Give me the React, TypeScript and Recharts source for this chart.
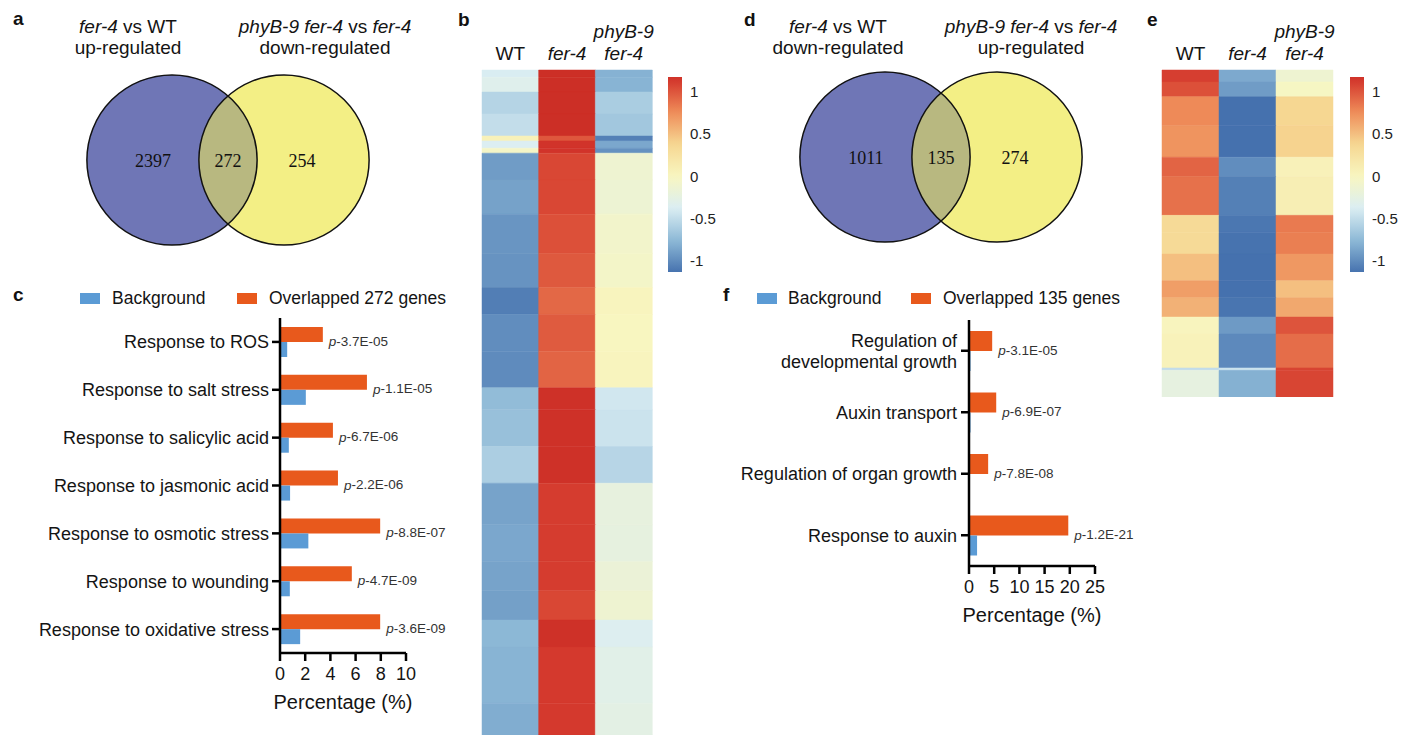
import React from "react";
import { Bar, BarChart, Cell, LabelList, Scatter, ScatterChart, XAxis, YAxis } from "recharts";

const FONT = '"Liberation Sans", Arial, Helvetica, sans-serif';
const SERIF = '"Liberation Serif", "Times New Roman", serif';
const INK = "#141414";
const BLUE = "#5b9bd5";
const ORANGE = "#e8591c";

// venn counts: [left only, overlap, right only]
const vennACounts = [2397, 272, 254];
const vennDCounts = [1011, 135, 274];

// heatmap columns (z-scores per block of genes, top to bottom)
const heatColumns = ["WT", "fer-4", "phyB-9\nfer-4"];

const heatBSizes = [3, 6, 9, 9, 2, 3, 2, 11, 14, 16, 14, 11, 15, 15, 9, 15, 15, 17, 15, 12, 12, 11, 23, 13];
const heatBWT = [-0.39, -0.33, -0.57, -0.5, 0.06, -0.37, -0.05, -0.92, -0.89, -0.96, -0.97, -1.08, -1.0, -1.01, -0.74, -0.71, -0.61, -0.88, -0.86, -0.88, -0.9, -0.77, -0.79, -0.83];
const heatBFer = [1.22, 1.22, 1.22, 1.22, 1.0, 1.17, 1.17, 1.07, 1.07, 1.03, 0.99, 0.92, 0.98, 0.94, 1.2, 1.2, 1.2, 1.12, 1.12, 1.12, 1.07, 1.2, 1.13, 1.13];
const heatBPhyB = [-0.8, -0.79, -0.62, -0.66, -1.07, -0.86, -0.98, -0.13, -0.14, -0.08, -0.06, 0.02, 0.0, 0.02, -0.43, -0.46, -0.56, -0.22, -0.23, -0.17, -0.13, -0.36, -0.3, -0.27];

const heatESizes = [5, 6, 12, 13, 8, 16, 7, 9, 11, 7, 8, 7, 14, 1, 11];
const heatEWT = [1.11, 1.03, 0.77, 0.72, 0.94, 0.88, 0.34, 0.34, 0.5, 0.67, 0.57, 0.02, 0.05, -0.5, -0.24];
const heatEFer = [-0.85, -0.92, -1.15, -1.15, -1.0, -1.07, -1.12, -1.14, -1.15, -1.15, -1.13, -0.93, -1.02, -0.45, -0.81];
const heatEPhyB = [-0.13, -0.02, 0.38, 0.4, 0.06, 0.1, 0.84, 0.82, 0.7, 0.5, 0.62, 1.01, 0.9, 1.08, 1.08];

const colorBarDomain: [number, number] = [-1.14, 1.18];
const colorBarTicks = [-1, -0.5, 0, 0.5, 1];

// GO enrichment, panel c
const goCCategories = [
	"Response to ROS",
	"Response to salt stress",
	"Response to salicylic acid",
	"Response to jasmonic acid",
	"Response to osmotic stress",
	"Response to wounding",
	"Response to oxidative stress",
];
const goCOverlap = [3.4, 6.9, 4.2, 4.6, 7.95, 5.7, 7.95];
const goCBackground = [0.57, 2.05, 0.7, 0.8, 2.25, 0.78, 1.6];
const goCPValues = ["3.7E-05", "1.1E-05", "6.7E-06", "2.2E-06", "8.8E-07", "4.7E-09", "3.6E-09"];
const goCTicks = [0, 2, 4, 6, 8, 10];

// GO enrichment, panel f
const goFCategories = [
	"Regulation of\ndevelopmental growth",
	"Auxin transport",
	"Regulation of organ growth",
	"Response to auxin",
];
const goFOverlap = [4.6, 5.4, 3.8, 19.7];
const goFBackground = [0.3, 0.3, 0.1, 1.6];
const goFPValues = ["3.1E-05", "6.9E-07", "7.8E-08", "1.2E-21"];
const goFTicks = [0, 5, 10, 15, 20, 25];

// colour scale for the heatmaps
const zStops: [number, string][] = [
	[-1.15, "#4571ae"],
	[-0.77, "#8cb8d6"],
	[-0.38, "#dbeef3"],
	[0, "#f8f6c0"],
	[0.38, "#f6d792"],
	[0.77, "#ee8a58"],
	[1.15, "#d3352b"],
	[1.3, "#c42821"],
];

function hexToRgb(h: string) {
	const n = parseInt(h.slice(1), 16);
	return [(n >> 16) & 255, (n >> 8) & 255, n & 255];
}

function zColor(z: number): string {
	if (z <= zStops[0][0]) return zStops[0][1];
	for (let i = 1; i < zStops.length; i++) {
		if (z <= zStops[i][0]) {
			const [z0, c0] = zStops[i - 1];
			const [z1, c1] = zStops[i];
			const t = (z - z0) / (z1 - z0);
			const a = hexToRgb(c0);
			const b = hexToRgb(c1);
			const m = a.map((v, k) => Math.round(v + (b[k] - v) * t));
			return `rgb(${m[0]},${m[1]},${m[2]})`;
		}
	}
	return zStops[zStops.length - 1][1];
}

// ---------- Venn ----------
const VENN_W = 336;
const VENN_H = 200;
const VENN_X: [number, number] = [-1, 2];
const VENN_Y: [number, number] = [-1, 1];
const VENN_R = 0.76; // radius in x units
const VENN_LABEL_X = [-0.17, 0.5, 1.16];

function Venn({ left, top, counts }: { left: number; top: number; counts: number[] }) {
	const px = VENN_W / (VENN_X[1] - VENN_X[0]);
	const r = VENN_R * px;
	const h = Math.sqrt(r * r - (px / 2) * (px / 2));
	const sets = [
		{ x: 0, y: 0, fill: "#6f76b6" },
		{ x: 1, y: 0, fill: "#f3ef85" },
	];
	const lens = [{ x: 0.5, y: 0 }];
	const labels = counts.map((c, i) => ({ x: VENN_LABEL_X[i], y: 0, count: c }));

	return (
		<div style={{ position: "absolute", left, top }}>
			<ScatterChart width={VENN_W} height={VENN_H} margin={{ top: 0, right: 0, bottom: 0, left: 0 }}>
				<XAxis type="number" dataKey="x" domain={VENN_X} hide />
				<YAxis type="number" dataKey="y" domain={VENN_Y} hide />
				<Scatter
					data={sets}
					isAnimationActive={false}
					shape={(p: any) => <circle cx={p.cx} cy={p.cy} r={r} fill={p.payload.fill} />}
				/>
				<Scatter
					data={lens}
					isAnimationActive={false}
					shape={(p: any) => (
						<path
							d={`M${p.cx},${p.cy - h} A${r},${r} 0 0 1 ${p.cx},${p.cy + h} A${r},${r} 0 0 1 ${p.cx},${p.cy - h} Z`}
							fill="#b8b880"
						/>
					)}
				/>
				<Scatter
					data={sets}
					isAnimationActive={false}
					shape={(p: any) => <circle cx={p.cx} cy={p.cy} r={r} fill="none" stroke="#111" strokeWidth={1.5} />}
				/>
				<Scatter
					data={labels}
					isAnimationActive={false}
					shape={(p: any) => (
						<text x={p.cx} y={p.cy + 6.5} textAnchor="middle" fontFamily={SERIF} fontSize={18} fill="#111">
							{p.payload.count}
						</text>
					)}
				/>
			</ScatterChart>
		</div>
	);
}

// ---------- heatmap ----------
const HeaderTick = (props: any) => {
	const { x, y, payload } = props;
	const lines = String(payload.value).split("\n");
	const italic = payload.value !== "WT";
	return (
		<text x={x} y={y} textAnchor="middle" fontSize={19} fill={INK} fontFamily={FONT} fontStyle={italic ? "italic" : "normal"}>
			{lines.map((l, i) => (
				<tspan key={i} x={x} dy={i === 0 ? -10 - (lines.length - 1) * 22 : 22}>
					{l}
				</tspan>
			))}
		</text>
	);
};

const HEADER_H = 60;
const SIDE_PAD = 20;

function Heatmap({ left, width, plotHeight, sizes, columns }: { left: number; width: number; plotHeight: number; sizes: number[]; columns: number[][] }) {
	const total = sizes.reduce((a, b) => a + b, 0);
	const data = heatColumns.map((name) => {
		const row: Record<string, any> = { name };
		sizes.forEach((s, i) => {
			row["r" + i] = s;
		});
		return row;
	});
	return (
		<div style={{ position: "absolute", left: left - SIDE_PAD, top: 70 - HEADER_H }}>
			<BarChart
				width={width + 2 * SIDE_PAD}
				height={plotHeight + HEADER_H}
				data={data}
				margin={{ top: 0, right: SIDE_PAD, bottom: 0, left: SIDE_PAD }}
				barCategoryGap={0}
				barGap={0}
			>
				<XAxis dataKey="name" orientation="top" height={HEADER_H} axisLine={false} tickLine={false} tickSize={0} tickMargin={0} interval={0} tick={HeaderTick} />
				<YAxis type="number" hide reversed domain={[0, total]} />
				{sizes.map((_, i) => (
					<Bar key={i} dataKey={"r" + i} stackId="h" isAnimationActive={false}>
						{columns.map((vals, ci) => (
							<Cell key={ci} fill={zColor(vals[i])} stroke={zColor(vals[i])} strokeWidth={0.5} />
						))}
					</Bar>
				))}
			</BarChart>
		</div>
	);
}

function ColorBar({ left, id }: { left: number; id: string }) {
	const data = [{ name: "z", range: colorBarDomain }];
	const n = 30;
	const stops = Array.from({ length: n + 1 }, (_, k) => {
		const z = colorBarDomain[1] - (k / n) * (colorBarDomain[1] - colorBarDomain[0]);
		return <stop key={k} offset={`${(k / n) * 100}%`} stopColor={zColor(z)} />;
	});
	return (
		<div style={{ position: "absolute", left, top: 77 }}>
			<BarChart width={14 + 40} height={195} data={data} margin={{ top: 0, right: 0, bottom: 0, left: 0 }} barCategoryGap={0}>
				<defs>
					<linearGradient id={id} x1="0" y1="0" x2="0" y2="1">
						{stops}
					</linearGradient>
				</defs>
				<XAxis dataKey="name" hide />
				<YAxis
					orientation="right"
					type="number"
					domain={colorBarDomain}
					ticks={colorBarTicks}
					width={40}
					axisLine={false}
					tickLine={false}
					tickSize={0}
					tickMargin={8}
					tick={{ fontSize: 15, fill: "#222", fontFamily: FONT }}
				/>
				<Bar dataKey="range" fill={`url(#${id})`} isAnimationActive={false} />
			</BarChart>
		</div>
	);
}

// ---------- GO bar charts ----------
const CatTick = (props: any) => {
	const { x, y, payload } = props;
	const lines = String(payload.value).split("\n");
	return (
		<text x={x} y={y} textAnchor="end" fontSize={18} fill={INK} fontFamily={FONT}>
			{lines.map((l, i) => (
				<tspan key={i} x={x} dy={i === 0 ? 6.5 - (lines.length - 1) * 10.5 : 21}>
					{l}
				</tspan>
			))}
		</text>
	);
};

const PLabel = (props: any) => {
	const vb = props.viewBox || {};
	const x = props.x ?? vb.x;
	const y = props.y ?? vb.y;
	const w = props.width ?? vb.width;
	const hgt = props.height ?? vb.height;
	return (
		<text x={x + w + 6} y={y + hgt - 1} dominantBaseline="central" fontSize={13.5} fill="#333" fontFamily={FONT}>
			<tspan fontStyle="italic">p</tspan>-{props.value}
		</text>
	);
};

interface GoProps {
	left: number;
	top: number;
	width: number;
	height: number;
	margin: { top: number; right: number; bottom: number; left: number };
	yWidth: number;
	tickMargin: number;
	categories: string[];
	overlap: number[];
	background: number[];
	pvalues: string[];
	ticks: number[];
	barSize: number;
}

function GoChart(p: GoProps) {
	const data = p.categories.map((name, i) => ({
		name,
		overlap: p.overlap[i],
		background: p.background[i],
		p: p.pvalues[i],
	}));
	const axisStyle = { stroke: "#000", strokeWidth: 2.5 };
	return (
		<div style={{ position: "absolute", left: p.left, top: p.top }}>
			<BarChart layout="vertical" width={p.width} height={p.height} data={data} margin={p.margin} barGap={0}>
				<XAxis
					type="number"
					domain={[p.ticks[0], p.ticks[p.ticks.length - 1]]}
					ticks={p.ticks}
					axisLine={axisStyle}
					tickLine={axisStyle}
					tickSize={8}
					tickMargin={6}
					height={60}
					tick={{ fontSize: 18, fill: INK, fontFamily: FONT }}
					label={{ value: "Percentage (%)", position: "insideBottom", offset: 4, fontSize: 20, fill: INK, fontFamily: FONT }}
				/>
				<YAxis
					type="category"
					dataKey="name"
					width={p.yWidth}
					axisLine={axisStyle}
					tickLine={axisStyle}
					tickSize={8}
					tickMargin={p.tickMargin}
					interval={0}
					tick={CatTick}
				/>
				<Bar dataKey="overlap" fill={ORANGE} barSize={p.barSize} isAnimationActive={false}>
					<LabelList dataKey="p" content={PLabel} />
				</Bar>
				<Bar dataKey="background" fill={BLUE} barSize={p.barSize} isAnimationActive={false} />
			</BarChart>
		</div>
	);
}

// ---------- static annotations ----------
const Italic = ({ children }: { children: React.ReactNode }) => <tspan fontStyle="italic">{children}</tspan>;

function Annotations() {
	const t = { fontFamily: FONT, fontSize: 19, fill: INK, textAnchor: "middle" as const };
	const letter = { fontFamily: FONT, fontSize: 19, fontWeight: 700, fill: "#111" };
	const leg = { fontFamily: FONT, fontSize: 17.5, fill: INK };
	return (
		<svg width={1411} height={735} style={{ position: "absolute", left: 0, top: 0, pointerEvents: "none" }}>
			<text x={13} y={25} {...letter}>a</text>
			<text x={458} y={26} {...letter}>b</text>
			<text x={13} y={301} {...letter}>c</text>
			<text x={744} y={26} {...letter}>d</text>
			<text x={1147} y={26} {...letter}>e</text>
			<text x={723} y={301} {...letter}>f</text>

			<text x={128} y={33} {...t}><Italic>fer-4</Italic> vs WT</text>
			<text x={128} y={54} {...t}>up-regulated</text>
			<text x={325} y={33} {...t}><Italic>phyB-9 fer-4</Italic> vs <Italic>fer-4</Italic></text>
			<text x={325} y={54} {...t}>down-regulated</text>

			<text x={838} y={33} {...t}><Italic>fer-4</Italic> vs WT</text>
			<text x={838} y={54} {...t}>down-regulated</text>
			<text x={1031} y={33} {...t}><Italic>phyB-9 fer-4</Italic> vs <Italic>fer-4</Italic></text>
			<text x={1031} y={54} {...t}>up-regulated</text>

			<rect x={80} y={293} width={20} height={11} fill={BLUE} />
			<text x={112} y={304} {...leg}>Background</text>
			<rect x={237} y={293} width={20} height={11} fill={ORANGE} />
			<text x={269} y={304} {...leg}>Overlapped 272 genes</text>

			<rect x={757} y={293} width={20} height={11} fill={BLUE} />
			<text x={788} y={304} {...leg}>Background</text>
			<rect x={911} y={293} width={20} height={11} fill={ORANGE} />
			<text x={943} y={304} {...leg}>Overlapped 135 genes</text>
		</svg>
	);
}

export default function App() {
	return (
		<div style={{ position: "absolute", left: 0, top: 0, width: 1411, height: 735, background: "#fff", overflow: "hidden", fontFamily: FONT }}>
			<Venn left={60} top={60} counts={vennACounts} />
			<Venn left={773} top={57} counts={vennDCounts} />

			<Heatmap left={482} width={170} plotHeight={665} sizes={heatBSizes} columns={[heatBWT, heatBFer, heatBPhyB]} />
			<ColorBar left={668} id="cbB" />
			<Heatmap left={1162} width={171} plotHeight={327} sizes={heatESizes} columns={[heatEWT, heatEFer, heatEPhyB]} />
			<ColorBar left={1350} id="cbE" />

			<GoChart
				left={0}
				top={280}
				width={470}
				height={455}
				margin={{ top: 38, right: 64, bottom: 22, left: 10 }}
				yWidth={270}
				tickMargin={3}
				categories={goCCategories}
				overlap={goCOverlap}
				background={goCBackground}
				pvalues={goCPValues}
				ticks={goCTicks}
				barSize={15}
			/>
			<GoChart
				left={700}
				top={280}
				width={450}
				height={360}
				margin={{ top: 40, right: 55, bottom: 14, left: 10 }}
				yWidth={259}
				tickMargin={4}
				categories={goFCategories}
				overlap={goFOverlap}
				background={goFBackground}
				pvalues={goFPValues}
				ticks={goFTicks}
				barSize={20}
			/>

			<Annotations />
		</div>
	);
}
